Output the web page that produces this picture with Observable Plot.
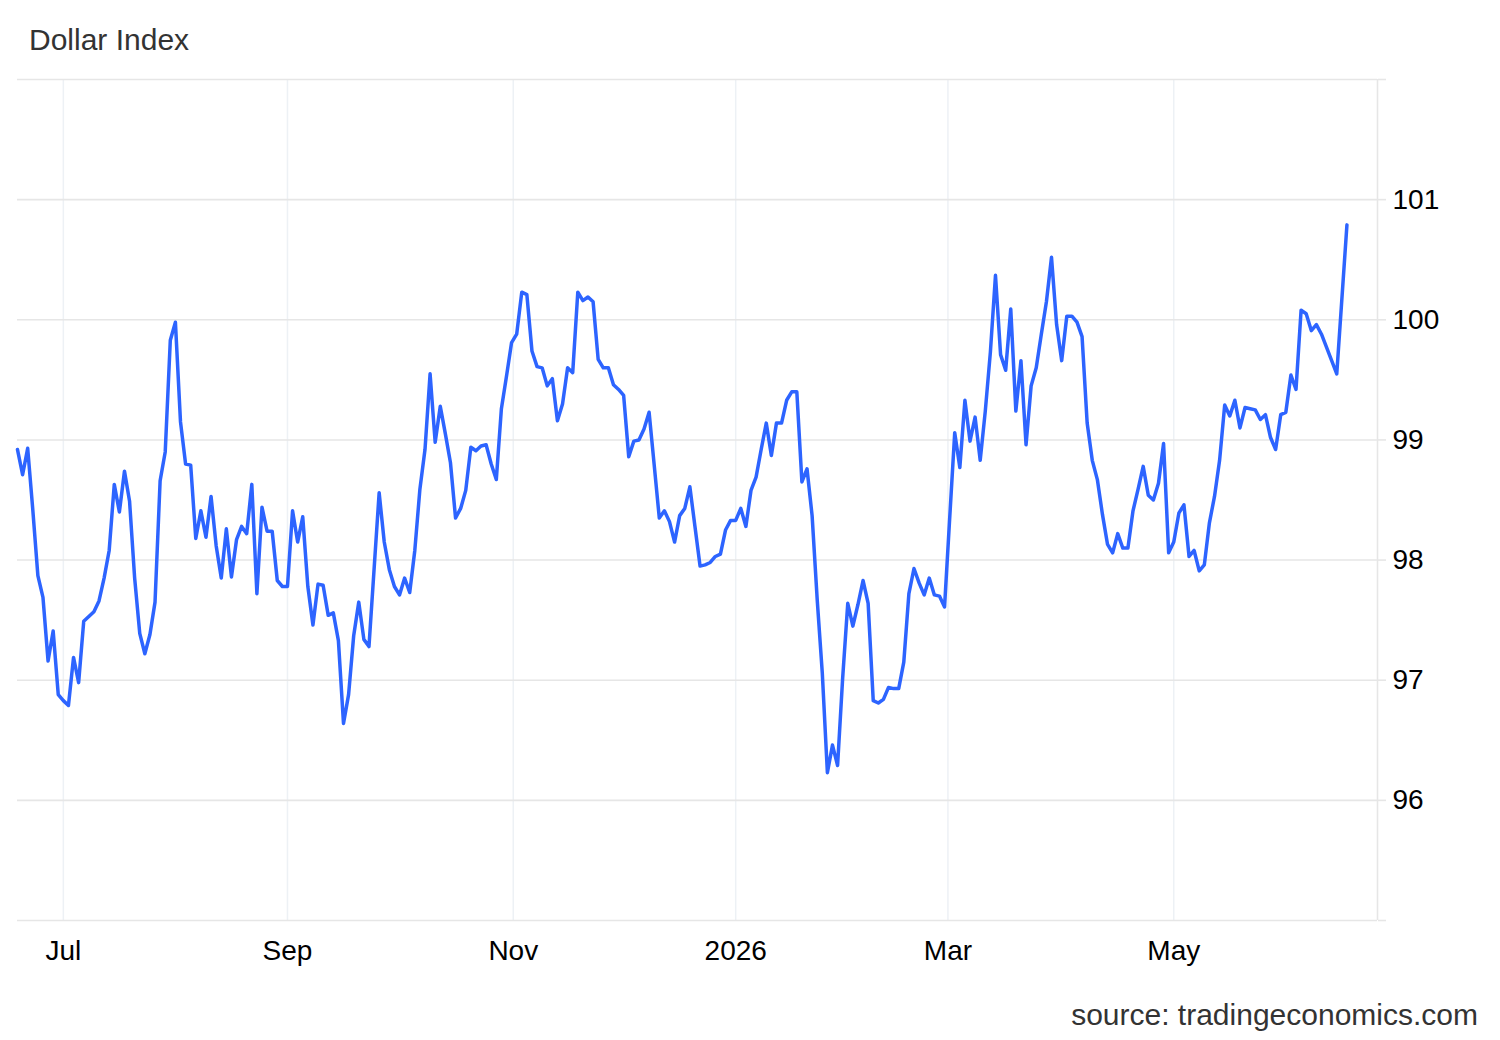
<!DOCTYPE html>
<html>
<head>
<meta charset="utf-8">
<script src="https://cdn.jsdelivr.net/npm/d3@7"></script>
<script src="https://cdn.jsdelivr.net/npm/@observablehq/plot@0.6"></script>
<style>
  body { margin: 0; background: #fff; font-family: "Liberation Sans", Arial, sans-serif; }
  #wrap { position: relative; width: 1500px; height: 1040px; overflow: hidden; }
  #chart { position: absolute; left: 0; top: 0; }
  #title { position: absolute; left: 29px; top: 25px; font-size: 30px; line-height: 30px; color: #333; }
  #source { position: absolute; right: 22px; top: 1000px; font-size: 30px; line-height: 30px; color: #333; }
</style>
</head>
<body>
<div id="wrap">
  <div id="chart"></div>
  <div id="title">Dollar Index</div>
  <div id="source">source: tradingeconomics.com</div>
</div>
<script>
// First trading day of the series (one value per weekday) and right end of the axis
const startDate = "2025-06-18";
const xDomainEnd = "2026-06-26";

// Dollar Index daily closes
const values = [
  98.92, 98.71, 98.93, 98.42, 97.87, 97.69, 97.16, 97.41, 96.88, 96.83,
  96.79, 97.19, 96.98, 97.49, 97.53, 97.57, 97.66, 97.85, 98.08, 98.63,
  98.40, 98.74, 98.49, 97.85, 97.39, 97.22, 97.38, 97.65, 98.66, 98.90,
  99.83, 99.98, 99.15, 98.80, 98.79, 98.18, 98.41, 98.19, 98.53, 98.12,
  97.85, 98.26, 97.86, 98.17, 98.28, 98.22, 98.63, 97.72, 98.44, 98.24,
  98.24, 97.83, 97.78, 97.78, 98.41, 98.15, 98.36, 97.78, 97.46, 97.80,
  97.79, 97.54, 97.56, 97.33, 96.64, 96.88, 97.37, 97.65, 97.34, 97.28,
  97.92, 98.56, 98.15, 97.92, 97.78, 97.71, 97.85, 97.73, 98.08, 98.59,
  98.92, 99.55, 98.98, 99.28, 99.05, 98.81, 98.35, 98.43, 98.58, 98.94,
  98.91, 98.95, 98.96, 98.80, 98.67, 99.26, 99.53, 99.81, 99.88, 100.23,
  100.21, 99.74, 99.61, 99.60, 99.45, 99.51, 99.16, 99.30, 99.60, 99.56,
  100.23, 100.16, 100.19, 100.15, 99.67, 99.60, 99.60, 99.46, 99.42, 99.37,
  98.86, 98.99, 99.00, 99.09, 99.23, 98.79, 98.35, 98.41, 98.32, 98.15,
  98.37, 98.43, 98.61, 98.28, 97.95, 97.96, 97.98, 98.03, 98.05, 98.25,
  98.33, 98.33, 98.43, 98.28, 98.58, 98.69, 98.92, 99.14, 98.87, 99.14,
  99.14, 99.33, 99.40, 99.40, 98.65, 98.76, 98.37, 97.67, 97.06, 96.23,
  96.46, 96.29, 97.02, 97.64, 97.45, 97.63, 97.83, 97.64, 96.83, 96.81,
  96.84, 96.94, 96.93, 96.93, 97.15, 97.72, 97.93, 97.81, 97.71, 97.85,
  97.71, 97.70, 97.61, 98.34, 99.06, 98.77, 99.33, 98.99, 99.19, 98.83,
  99.24, 99.73, 100.37, 99.71, 99.58, 100.09, 99.24, 99.66, 98.96, 99.45,
  99.60, 99.88, 100.15, 100.52, 99.96, 99.66, 100.03, 100.03, 99.98, 99.86,
  99.14, 98.83, 98.67, 98.38, 98.13, 98.06, 98.22, 98.10, 98.10, 98.41,
  98.59, 98.78, 98.54, 98.50, 98.64, 98.97, 98.06, 98.15, 98.39, 98.46,
  98.03, 98.08, 97.91, 97.96, 98.31, 98.53, 98.83, 99.29, 99.20, 99.33,
  99.10, 99.27, 99.26, 99.25, 99.17, 99.21, 99.02, 98.92, 99.21, 99.23,
  99.54, 99.42, 100.08, 100.05, 99.91, 99.96, 99.88, 99.77, 99.66, 99.55,
  100.17, 100.79
];

// Axis ticks
const xTickDates = ["2025-07-01", "2025-09-01", "2025-11-01", "2026-01-01", "2026-03-01", "2026-05-01"];
const xTickLabels = ["Jul", "Sep", "Nov", "2026", "Mar", "May"];
const yTicks = [95, 96, 97, 98, 99, 100, 101, 102];
const yTickLabels = ["", "96", "97", "98", "99", "100", "101", ""];

// Ordinal (trading-day) time axis, like the source chart: weekdays are evenly
// spaced and weekends take no room; a weekend date falls proportionally in the gap.
const DAY = 86400000;
const parse = s => new Date(s + "T00:00:00Z");
const t0 = parse(startDate);
const isWeekend = t => { const w = new Date(t).getUTCDay(); return w === 0 || w === 6; };
function ordinal(date) {
  // index of the weekday at or before the date, plus the fraction of the gap to the next one
  let t = +t0, i = 0;
  const target = +date;
  let prev = t, prevI = 0;
  while (true) {
    if (!isWeekend(t)) {
      if (t === target) return i;
      if (t > target) return prevI + (target - prev) / (t - prev);
      prev = t; prevI = i; i++;
    }
    t += DAY;
  }
}
const data = [];
{
  let t = +t0;
  for (const v of values) {
    while (isWeekend(t)) t += DAY;
    data.push({date: new Date(t), value: v});
    t += DAY;
  }
}
data.forEach(r => r.pos = ordinal(r.date));
const xTicks = xTickDates.map(s => ordinal(parse(s)));
const xEnd = ordinal(parse(xDomainEnd));

const chart = Plot.plot({
  width: 1500,
  height: 1040,
  marginTop: 79,
  marginBottom: 120,
  marginLeft: 17,
  marginRight: 123,
  style: {fontFamily: "'Liberation Sans', Arial, sans-serif", fontSize: "28px", background: "transparent", color: "#000"},
  x: {type: "linear", domain: [0, xEnd]},
  y: {domain: [95, 102]},
  marks: [
    Plot.ruleX(xTicks, {stroke: "#edf1f5", strokeWidth: 1.5}),
    Plot.ruleY(yTicks, {stroke: "#e6e6e6", strokeWidth: 1.6}),
    Plot.ruleX([xEnd], {stroke: "#e6e6e6", strokeWidth: 1.6}),
    Plot.axisY({
      anchor: "right", ticks: yTicks, tickSize: 8, tickPadding: 7,
      tickFormat: v => yTickLabels[yTicks.indexOf(v)],
      stroke: "#e6e6e6", strokeWidth: 1.6, fill: "#000", fontSize: 28, label: null
    }),
    Plot.axisX({
      ticks: xTicks, tickSize: 0, tickPadding: 20,
      tickFormat: v => xTickLabels[xTicks.indexOf(v)],
      fill: "#000", fontSize: 28, label: null
    }),
    Plot.line(data, {x: "pos", y: "value", stroke: "#2d64ff", strokeWidth: 3.5, strokeLinejoin: "round"})
  ]
});
document.getElementById("chart").appendChild(chart);
</script>
</body>
</html>
